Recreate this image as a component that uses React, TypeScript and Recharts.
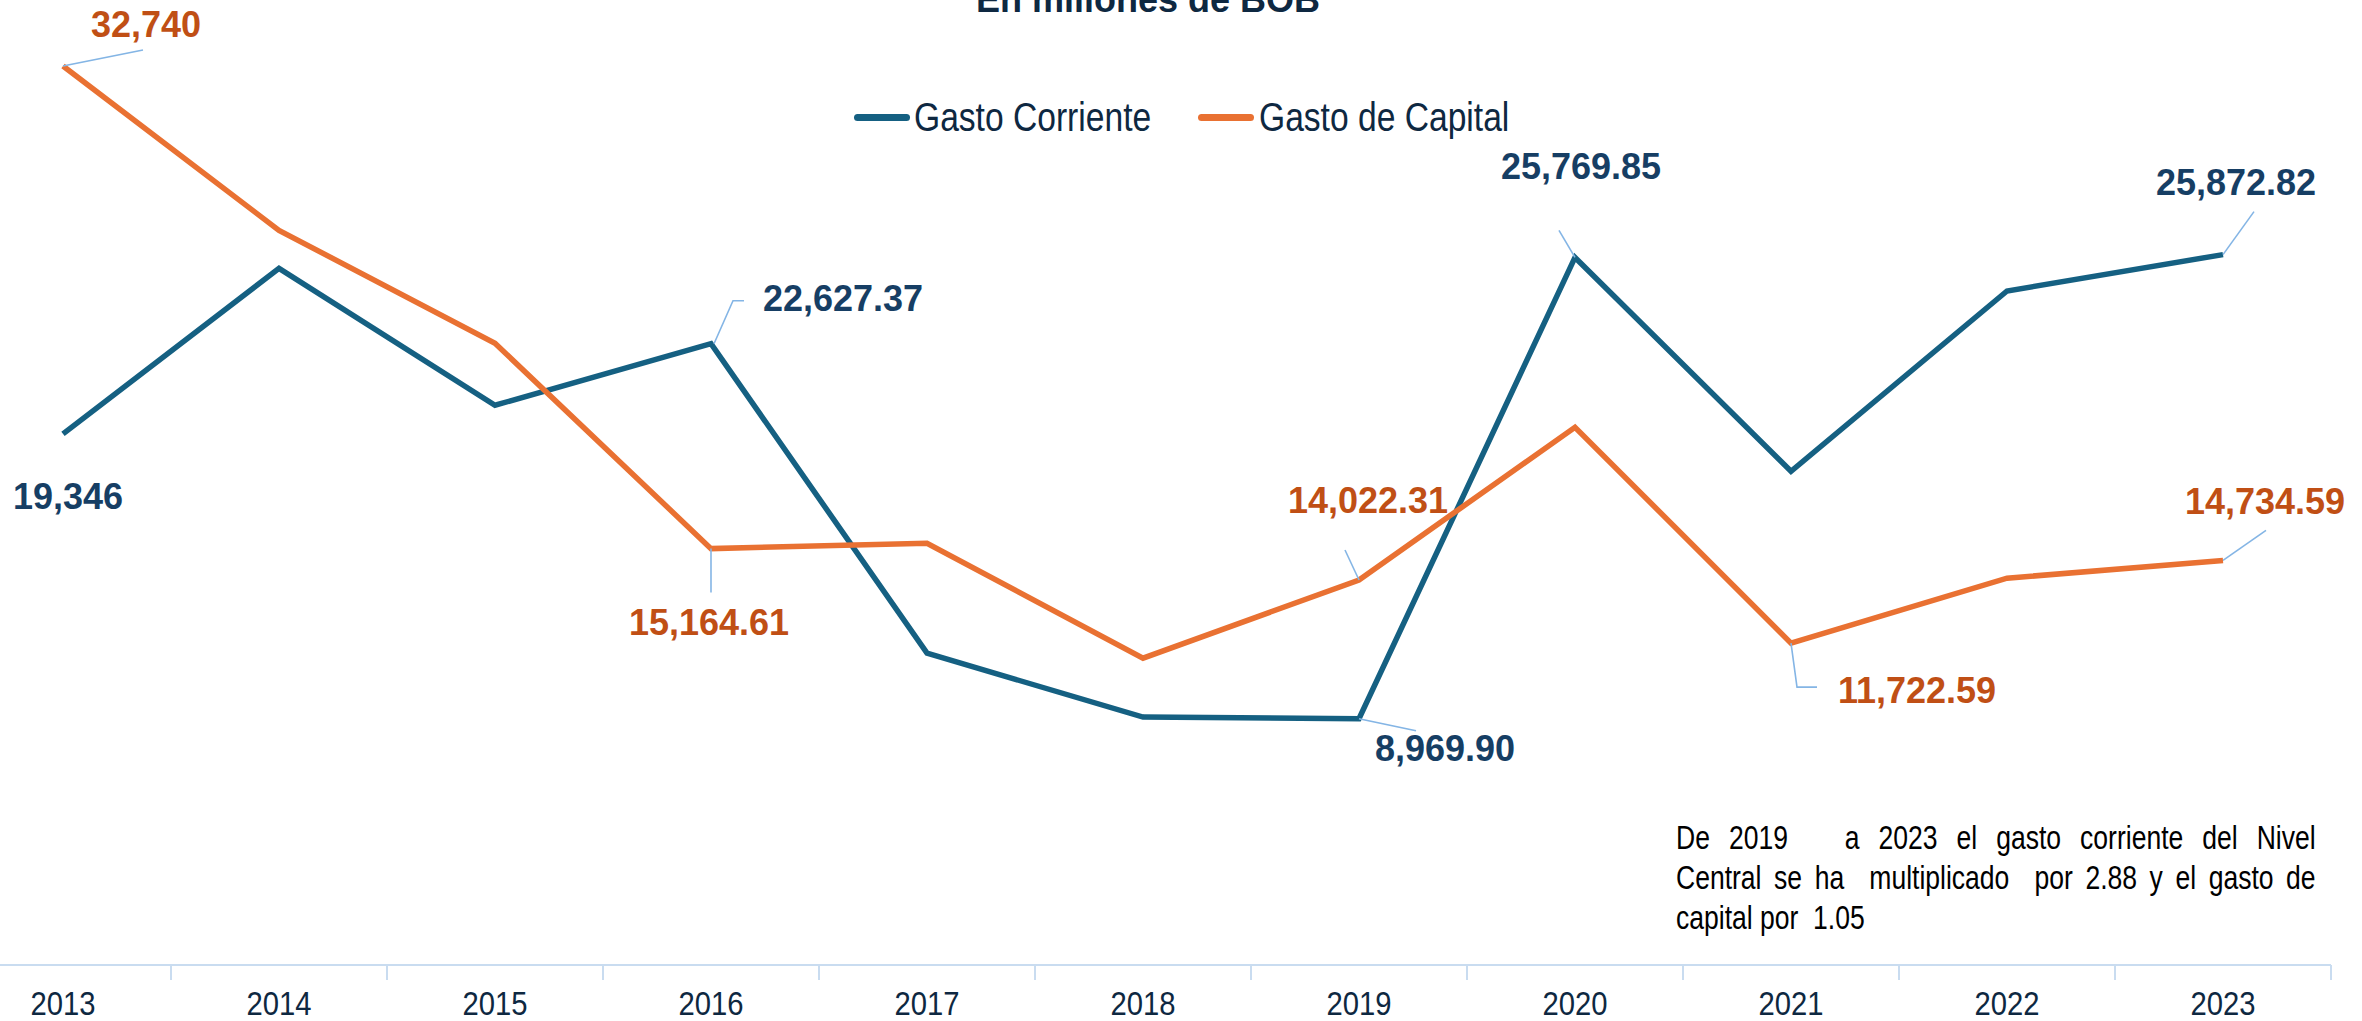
import { ComposedChart, Line, XAxis, YAxis, LabelList } from 'recharts'

const years = ['2013', '2014', '2015', '2016', '2017', '2018', '2019', '2020', '2021', '2022', '2023']
const gastoCorriente = [19346, 25373, 20386, 22627.37, 11358, 9028, 8969.9, 25769.85, 17983, 24547, 25872.82]
const gastoCapital = [32740, 26756, 22643, 15164.61, 15362, 11176, 14022.31, 19585, 11722.59, 14088, 14734.59]

const data = years.map((year, i) => ({ year, corriente: gastoCorriente[i], capital: gastoCapital[i] }))

const CORRIENTE = '#156082'
const CAPITAL = '#E97132'
const CORRIENTE_TXT = '#163E64'
const CAPITAL_TXT = '#C04F15'
const LEADER = '#84B5E5'
const NAVY = '#0E2841'

const CHART_W = 2376
const EXTRA_RIGHT = 70
const PLOT_TOP = 4
const PLOT_BOTTOM = 965
const BAND = CHART_W / years.length

const sans = "'Liberation Sans', Arial, sans-serif"

type LabelCfg = { dx: number; dy: number; digits: number; leader?: number[][] }

// label offsets relative to the point, only the labelled years
const corrienteLabels: Record<number, LabelCfg> = {
  0: { dx: 5, dy: 63, digits: 0 },
  3: { dx: 132, dy: -45, digits: 2, leader: [[3, 0], [22, -43], [33, -43]] },
  6: { dx: 86, dy: 30, digits: 2, leader: [[0, 0], [57, 12]] },
  7: { dx: 6, dy: -91, digits: 2, leader: [[0, 0], [-16, -27]] },
  10: { dx: 13, dy: -72, digits: 2, leader: [[0, 0], [31, -43]] },
}
const capitalLabels: Record<number, LabelCfg> = {
  0: { dx: 83, dy: -42, digits: 0, leader: [[0, 0], [80, -16]] },
  3: { dx: -2, dy: 74, digits: 2, leader: [[0, 0], [0, 44]] },
  6: { dx: 9, dy: -79, digits: 2, leader: [[0, 0], [-14, -30]] },
  8: { dx: 126, dy: 47, digits: 2, leader: [[0, 0], [6, 44], [26, 44]] },
  10: { dx: 42, dy: -59, digits: 2, leader: [[0, 0], [43, -30]] },
}

const labelRenderer = (cfgs: Record<number, LabelCfg>, color: string) => (props: any) => {
  const { x, y, index, value } = props
  const cfg = cfgs[index]
  if (!cfg) return null
  const txt = Number(value).toLocaleString('en-US', {
    minimumFractionDigits: cfg.digits,
    maximumFractionDigits: cfg.digits,
  })
  return (
    <g>
      {cfg.leader && (
        <polyline
          points={cfg.leader.map(([a, b]) => `${x + a},${y + b}`).join(' ')}
          fill="none"
          stroke={LEADER}
          strokeWidth={1.6}
        />
      )}
      <text
        x={x + cfg.dx}
        y={y + cfg.dy}
        textAnchor="middle"
        dominantBaseline="central"
        fill={color}
        fontSize={36}
        fontWeight={700}
        fontFamily={sans}
      >
        {txt}
      </text>
    </g>
  )
}

const YearTick = (props: any) => {
  const { x, y, payload, index } = props
  const last = index === years.length - 1
  return (
    <g>
      <line x1={x - BAND / 2} x2={x - BAND / 2} y1={y} y2={y + 15} stroke="#C9DCF0" strokeWidth={2} />
      {last && <line x1={x + BAND / 2} x2={x + BAND / 2} y1={y} y2={y + 15} stroke="#C9DCF0" strokeWidth={2} />}
      <text
        transform={`translate(${x},${y + 38}) scale(0.86,1)`}
        textAnchor="middle"
        dominantBaseline="central"
        fill={NAVY}
        fontSize={34}
        fontFamily={sans}
      >
        {payload.value}
      </text>
    </g>
  )
}

export default function App() {
  return (
    <div style={{ position: 'fixed', left: 0, top: 0, width: 2362, height: 1021, overflow: 'hidden', background: '#fff' }}>
      <div
        style={{
          position: 'absolute',
          left: 0,
          width: 2296,
          top: -18,
          textAlign: 'center',
          fontFamily: sans,
          fontWeight: 700,
          fontSize: 36,
          lineHeight: '36px',
          color: NAVY,
        }}
      >
        En millones de BOB
      </div>

      <div style={{ position: 'absolute', left: -45, top: 0 }}>
        <ComposedChart
          width={CHART_W + EXTRA_RIGHT}
          height={1021}
          data={data}
          margin={{ top: PLOT_TOP, right: EXTRA_RIGHT, bottom: 0, left: 0 }}
        >
          <XAxis
            dataKey="year"
            scale="point"
            padding={{ left: BAND / 2, right: BAND / 2 }}
            height={1021 - PLOT_BOTTOM}
            axisLine={{ stroke: '#C9DCF0', strokeWidth: 2 }}
            tickLine={false}
            tickSize={0}
            tickMargin={0}
            interval={0}
            tick={<YearTick />}
          />
          <YAxis hide domain={[0, 35000]} />
          <Line
            dataKey="corriente"
            name="Gasto Corriente"
            stroke={CORRIENTE}
            strokeWidth={5.5}
            dot={false}
            isAnimationActive={false}
          >
            <LabelList dataKey="corriente" content={labelRenderer(corrienteLabels, CORRIENTE_TXT)} />
          </Line>
          <Line
            dataKey="capital"
            name="Gasto de Capital"
            stroke={CAPITAL}
            strokeWidth={5.5}
            dot={false}
            isAnimationActive={false}
          >
            <LabelList dataKey="capital" content={labelRenderer(capitalLabels, CAPITAL_TXT)} />
          </Line>
        </ComposedChart>
      </div>

      <div
        style={{
          position: 'absolute',
          left: 854,
          top: 95,
          display: 'flex',
          alignItems: 'center',
          fontFamily: sans,
          fontSize: 40,
          lineHeight: '44px',
          color: NAVY,
          whiteSpace: 'nowrap',
        }}
      >
        <span style={{ display: 'inline-block', width: 56, height: 7, borderRadius: 4, background: CORRIENTE, marginRight: 4 }} />
        <span style={{ display: 'inline-block', width: 238, transform: 'scaleX(0.84)', transformOrigin: 'left center' }}>
          Gasto Corriente
        </span>
        <span style={{ display: 'inline-block', width: 56, height: 7, borderRadius: 4, background: CAPITAL, marginLeft: 46, marginRight: 5 }} />
        <span style={{ display: 'inline-block', width: 250, transform: 'scaleX(0.84)', transformOrigin: 'left center' }}>
          Gasto de Capital
        </span>
      </div>

      <div
        style={{
          position: 'absolute',
          left: 1676,
          top: 817,
          width: 820,
          transform: 'scaleX(0.78)',
          transformOrigin: 'left top',
          fontFamily: sans,
          fontSize: 34,
          lineHeight: '40px',
          color: '#000',
        }}
      >
        <div style={{ textAlign: 'justify', textAlignLast: 'justify', whiteSpace: 'nowrap' }}>De 2019&nbsp;&nbsp; a 2023 el gasto corriente del Nivel</div>
        <div style={{ textAlign: 'justify', textAlignLast: 'justify', whiteSpace: 'nowrap' }}>Central se ha&nbsp; multiplicado&nbsp; por 2.88 y el gasto de</div>
        <div style={{ whiteSpace: 'nowrap' }}>capital por&nbsp; 1.05</div>
      </div>
    </div>
  )
}
